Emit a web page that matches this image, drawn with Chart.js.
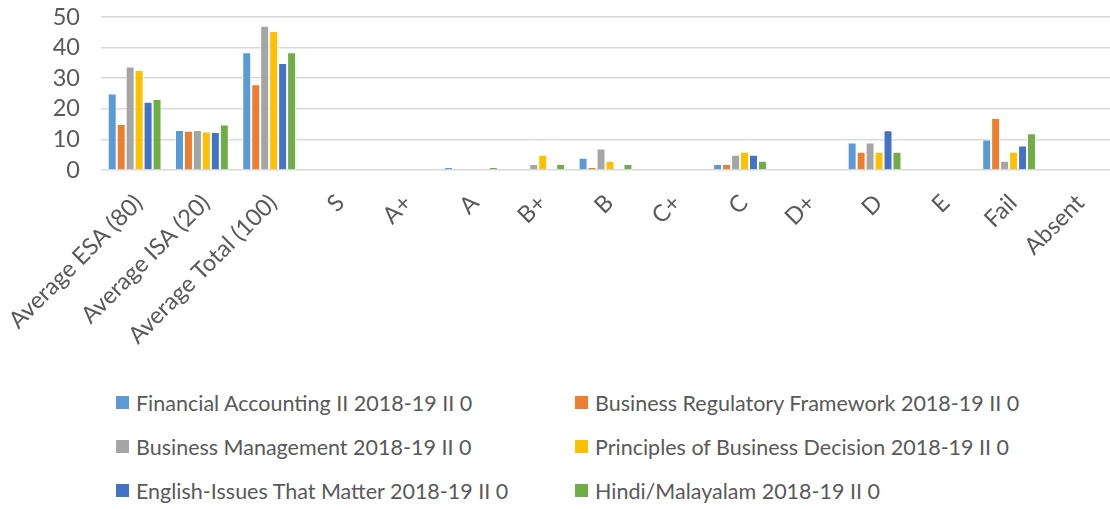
<!DOCTYPE html>
<html>
<head>
<meta charset="utf-8">
<script src="https://cdn.jsdelivr.net/npm/chart.js@4"></script>
<style>
  body { margin: 0; background: #fff; }
  .wrap { position: relative; width: 1110px; height: 509px; }
  .chartBox { position: absolute; left: 0; top: 0; width: 1110px; height: 380px; }
  .legend { position: absolute; left: 116px; top: 389px; width: 994px; display: grid; grid-template-columns: 459px 520px; row-gap: 17px; }
  .legend div { display: flex; align-items: center; height: 27px; font-family: Lato, 'Open Sans', sans-serif; font-size: 21.5px; color: #595959; white-space: nowrap; }
  .legend span { display: inline-block; width: 13px; height: 13px; margin-right: 7px; }
</style>
</head>
<body>
<div class="wrap">
  <div class="chartBox"><canvas id="chart"></canvas></div>
  <div class="legend" id="legend"></div>
</div>
<script>
const categories = ['Average ESA (80)', 'Average ISA (20)', 'Average Total (100)', 'S', 'A+', 'A', 'B+', 'B', 'C+', 'C', 'D+', 'D', 'E', 'Fail', 'Absent']
const financialAccounting = [25, 13.1, 38.5, 0, 0, 1, 0, 4, 0, 2, 0, 9, 0, 10, 0]
const businessRegulatory = [15, 12.8, 28, 0, 0, 0, 0, 1, 0, 2, 0, 6, 0, 17, 0]
const businessManagement = [33.8, 13.1, 47.1, 0, 0, 0, 2, 7, 0, 5, 0, 9, 0, 3, 0]
const principlesDecision = [32.7, 12.6, 45.4, 0, 0, 0, 5, 3, 0, 6, 0, 6, 0, 6, 0]
const englishIssues = [22.3, 12.4, 35, 0, 0, 0, 0, 0, 0, 5, 0, 13, 0, 8, 0]
const hindiMalayalam = [23.2, 14.9, 38.5, 0, 0, 1, 2, 2, 0, 3, 0, 6, 0, 12, 0]
const yTicks = [0, 10, 20, 30, 40, 50]

const seriesNames = [
  'Financial Accounting II 2018-19 II 0',
  'Business Regulatory Framework 2018-19 II 0',
  'Business Management 2018-19 II 0',
  'Principles of Business Decision 2018-19 II 0',
  'English-Issues That Matter 2018-19 II 0',
  'Hindi/Malayalam 2018-19 II 0'
]
const seriesData = [financialAccounting, businessRegulatory, businessManagement, principlesDecision, englishIssues, hindiMalayalam]
const colors = ['#5B9BD5', '#ED7D31', '#A5A5A5', '#FFC000', '#4472C4', '#70AD47']

const font = { family: "Lato, 'Open Sans', sans-serif", size: 23.5 }

const chart = new Chart(document.getElementById('chart'), {
  type: 'bar',
  data: {
    labels: categories,
    datasets: seriesNames.map((name, i) => ({
      label: name,
      data: seriesData[i],
      backgroundColor: colors[i],
      borderColor: '#ffffff',
      borderWidth: 1,
      barPercentage: 1,
      categoryPercentage: 0.8
    }))
  },
  options: {
    responsive: true,
    maintainAspectRatio: false,
    animation: false,
    layout: { padding: { top: 17, right: 0, left: 0, bottom: 0 } },
    plugins: { legend: { display: false }, tooltip: { enabled: false } },
    scales: {
      x: {
        grid: { display: false },
        border: { display: false },
        ticks: { color: '#595959', font: font, minRotation: 45, maxRotation: 45, autoSkip: false, padding: 11, labelOffset: 4 },
        afterFit(scale) {
          scale.height = 210
          scale.paddingLeft = 0
          scale.paddingRight = 0
        }
      },
      y: {
        min: yTicks[0],
        max: yTicks[yTicks.length - 1],
        afterBuildTicks(scale) { scale.ticks = yTicks.map(v => ({ value: v })) },
        grid: { color: '#d9d9d9', lineWidth: 1.5, drawTicks: false },
        border: { display: false },
        ticks: { color: '#595959', font: font, padding: 21, autoSkip: false },
        afterFit(scale) {
          scale.width = 101
          scale.paddingTop = 0
          scale.paddingBottom = 0
        }
      }
    }
  }
})

const legend = document.getElementById('legend')
legend.innerHTML = chart.data.datasets.map(ds => `<div><span style="background:${ds.backgroundColor}"></span>${ds.label}</div>`).join('')
</script>
</body>
</html>
